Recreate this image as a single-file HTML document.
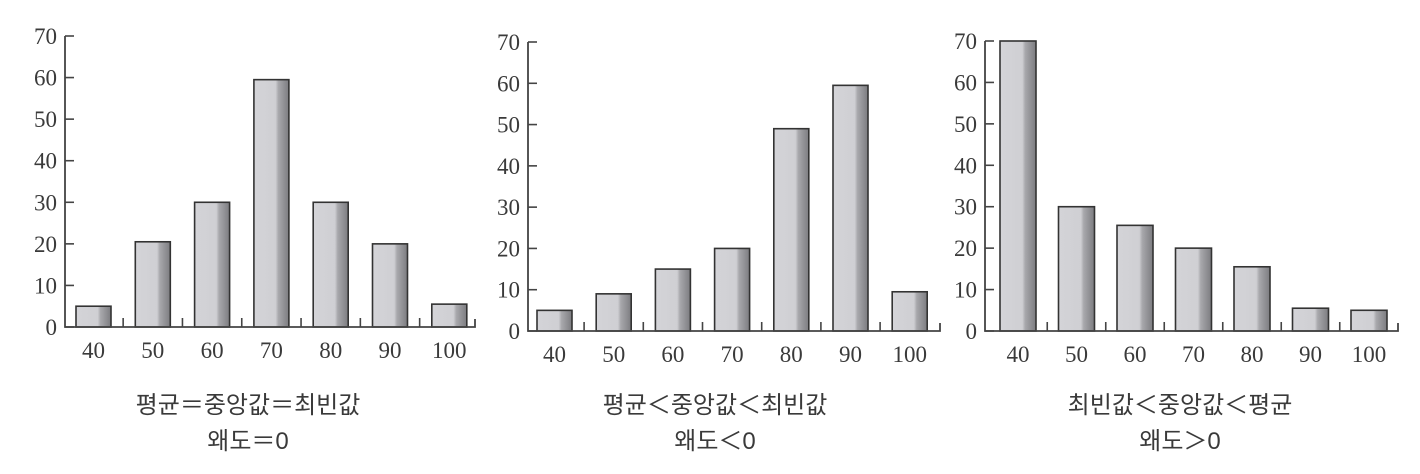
<!DOCTYPE html>
<html><head><meta charset="utf-8">
<style>
html,body{margin:0;padding:0;background:#fff;}
svg{display:block;}
.num{font-family:"Liberation Serif",serif;font-size:23px;fill:#3a3a3a;}
.cap{font-family:"Liberation Sans","Noto Sans CJK KR",sans-serif;font-size:24px;fill:#3a3a3a;}
</style></head>
<body>
<svg id="chart" width="1420" height="474" viewBox="0 0 1420 474">
<defs>
<linearGradient id="barg" x1="0" x2="1" y1="0" y2="0">
<stop offset="0" stop-color="#d4d4d8"/>
<stop offset="0.62" stop-color="#cfcfd3"/>
<stop offset="0.7" stop-color="#a8a8ac"/>
<stop offset="1" stop-color="#7c7c80"/>
</linearGradient>
</defs>
</svg>
<script>
const categories = ["40","50","60","70","80","90","100"];
const yTicks = [0,10,20,30,40,50,60,70];
const seriesSymmetric = [5,20.5,30,59.5,30,20,5.5];
const seriesLeftSkew = [5,9,15,20,49,59.5,9.5];
const seriesRightSkew = [70,30,25.5,20,15.5,5.5,5];
const captionsA = ["평균＝중앙값＝최빈값","왜도＝0"];
const captionsB = ["평균＜중앙값＜최빈값","왜도＜0"];
const captionsC = ["최빈값＜중앙값＜평균","왜도＞0"];

const NS="http://www.w3.org/2000/svg";
const svg=document.getElementById('chart');
function mk(tag,attrs,parent){const e=document.createElementNS(NS,tag);for(const k in attrs)e.setAttribute(k,attrs[k]);(parent||svg).appendChild(e);return e;}

function drawChart(cfg,values,caps,name){
  const g=mk('g',{});
  
  
  const y=v=>cfg.y0-(v/70)*(cfg.y0-cfg.y70);
  const bx=i=>cfg.x0+cfg.off+i*cfg.pitch;
  values.forEach((v,i)=>{
    const r=mk('rect',{x:bx(i),y:y(v),width:cfg.bw,height:cfg.y0-y(v),fill:'url(#barg)',stroke:'#333','stroke-width':1.6},g);
    
    
  });
  const ax=mk('path',{d:`M${cfg.x0},${y(70)} V${cfg.y0} H${cfg.xEnd} v-8`,fill:'none',stroke:'#444','stroke-width':1.8},g);
  
  
  yTicks.forEach(t=>{
    mk('line',{x1:cfg.x0,x2:cfg.x0+9,y1:y(t),y2:y(t),stroke:'#444','stroke-width':1.6},g);
    const tx=mk('text',{x:cfg.x0-8,y:y(t)+8,'text-anchor':'end',class:'num'},g);
    tx.textContent=t;
    
    
  });
  categories.forEach((c,i)=>{
    if(i>0){const xt=bx(i)-(cfg.pitch-cfg.bw)/2;mk('line',{x1:xt,x2:xt,y1:cfg.y0,y2:cfg.y0-9,stroke:'#444','stroke-width':1.6},g);}
    const tx=mk('text',{x:bx(i)+cfg.bw/2,y:cfg.y0+31,'text-anchor':'middle',class:'num'},g);
    tx.textContent=c;
    
    
  });
  caps.forEach((c,i)=>{
    const tx=mk('text',{x:cfg.cx,y:413+i*36,'text-anchor':'middle',class:'cap'},g);
    tx.textContent=c;
    
    
  });
}
drawChart({x0:65,y0:327,y70:36,off:11,pitch:59.3,bw:35,xEnd:475,cx:248},seriesSymmetric,captionsA,'chart-symmetric');
drawChart({x0:528,y0:331,y70:42,off:9,pitch:59.2,bw:35,xEnd:940,cx:715},seriesLeftSkew,captionsB,'chart-negative-skew');
drawChart({x0:985,y0:331,y70:41,off:15,pitch:58.5,bw:36,xEnd:1398,cx:1180},seriesRightSkew,captionsC,'chart-positive-skew');
</script>
</body></html>
